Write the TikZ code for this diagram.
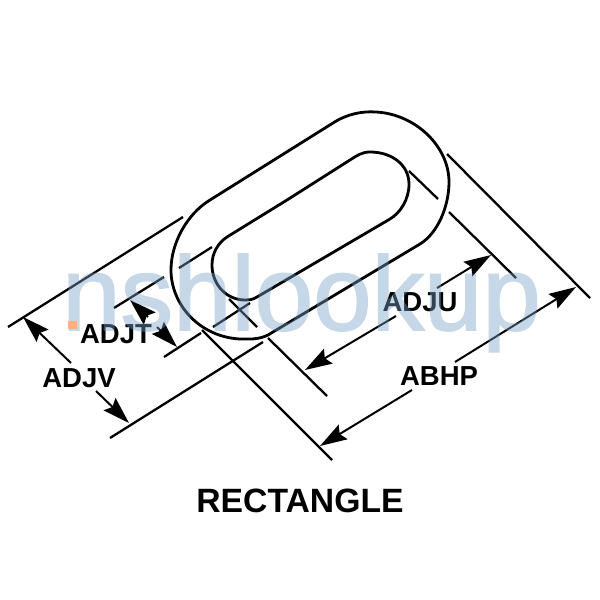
\documentclass[tikz,border=0pt]{standalone}
\usepackage{fontspec}
\setmainfont{Liberation Sans}
\newfontfamily\wmfont[FakeBold=1.6]{Liberation Sans}
\usetikzlibrary{arrows.meta}
\definecolor{wmblue}{RGB}{120,160,200}
\definecolor{wmorange}{RGB}{247,178,130}
\tikzset{
  x=1pt,y=-1pt,
  outline/.style={line width=2.8pt,line join=round},
  ext/.style={line width=2.3pt},
  dimline/.style={line width=2pt,-{Stealth[length=27pt,width=17pt,inset=4pt]}},
  dimlabel/.style={font=\fontsize{27.5}{27.5}\selectfont\bfseries,inner sep=0pt},
  wm/.style={font=\wmfont\fontsize{105}{105}\selectfont,inner sep=0pt,text=wmblue,anchor=base west},
}
\begin{document}
\begin{tikzpicture}
\useasboundingbox (0,0) rectangle (600,600);
\fill[white] (0,0) rectangle (600,600);
% link
\draw[outline] (210,200) -- (333,123) .. controls (347,114) and (362,111) .. (376,112)
  .. controls (415,114) and (449,146) .. (449,182)
  .. controls (449,206) and (438,233) .. (420,244)
  -- (268,335) .. controls (258,340) and (248,339) .. (240,339)
  .. controls (200,337) and (171,305) .. (171,270)
  .. controls (171,243) and (187,214) .. (210,200);
\draw[outline] (287,200) -- (350,160) .. controls (357,155.5) and (362,152) .. (370,152)
  .. controls (392,152) and (409,165) .. (409,184)
  .. controls (409,200) and (400,213) .. (390,219)
  -- (257,297) .. controls (252,300) and (249,300) .. (245,300)
  .. controls (226,300) and (212,284) .. (212,265)
  .. controls (212,253) and (218,243) .. (227,237) -- (287,200);
% extension lines
\coordinate (a1) at (8,327);   \coordinate (a2) at (183,217);
\coordinate (b1) at (110,438); \coordinate (b2) at (263,342);
\coordinate (c1) at (114,308); \coordinate (c2) at (164,277);
\coordinate (c3) at (179,268); \coordinate (c4) at (212,247);
\coordinate (d1) at (164,357); \coordinate (d2) at (201,333);
\coordinate (d3) at (213,327); \coordinate (d4) at (250,303);
\coordinate (e1) at (202,330); \coordinate (e2) at (332,460);
\coordinate (f1) at (229,299); \coordinate (f2) at (257,327);
\coordinate (f3) at (268,338); \coordinate (f4) at (327,396);
\coordinate (g1) at (409,171); \coordinate (g2) at (438,199);
\coordinate (g3) at (449,212); \coordinate (g4) at (516,278);
\coordinate (h1) at (447,154); \coordinate (h2) at (590,298);
\foreach \p/\q in {a1/a2,b1/b2,c1/c2,c3/c4,d1/d2,d3/d4,e1/e2,f1/f2,f3/f4,g1/g2,g3/g4,h1/h2}
  \draw[ext] (\p) -- (\q);
% labels
\node[dimlabel] (adjt) at (116,334) {ADJT};
\node[dimlabel] (adjv) at (79,378) {ADJV};
\node[dimlabel] (adju) at (420,302) {ADJU};
\node[dimlabel] (abhp) at (439,376) {ABHP};
\node[font=\fontsize{33.7}{33.7}\selectfont\bfseries,inner sep=0pt] (title) at (300,501) {RECTANGLE};
% dimension arrows
\coordinate (va) at (23,317);  \coordinate (vb) at (71,363);
\coordinate (vc) at (96,391);  \coordinate (vd) at (129,423);
\coordinate (ta) at (130,300); \coordinate (tb) at (148,317);
\coordinate (tc) at (157,327); \coordinate (td) at (177,347);
\coordinate (ua) at (491,255); \coordinate (ub) at (437,288);
\coordinate (uc) at (396,316); \coordinate (ud) at (305,370);
\coordinate (pa) at (576,287); \coordinate (pb) at (455,362);
\coordinate (pc) at (412,390); \coordinate (pd) at (320,446);
\draw[dimline] (vb) -- (va);
\draw[dimline] (vc) -- (vd);
\draw[dimline] (tb) -- (ta);
\draw[dimline] (tc) -- (td);
\draw[dimline] (ub) -- (ua);
\draw[dimline] (uc) -- (ud);
\draw[dimline] (pb) -- (pa);
\draw[dimline] (pc) -- (pd);
% watermark
\begin{scope}[transparency group,opacity=.42]
\node[wm] (mark) at (62,330) {nshlookup};
\end{scope}
\fill[wmorange] (68,321) rectangle (77,329);
\end{tikzpicture}
\end{document}
